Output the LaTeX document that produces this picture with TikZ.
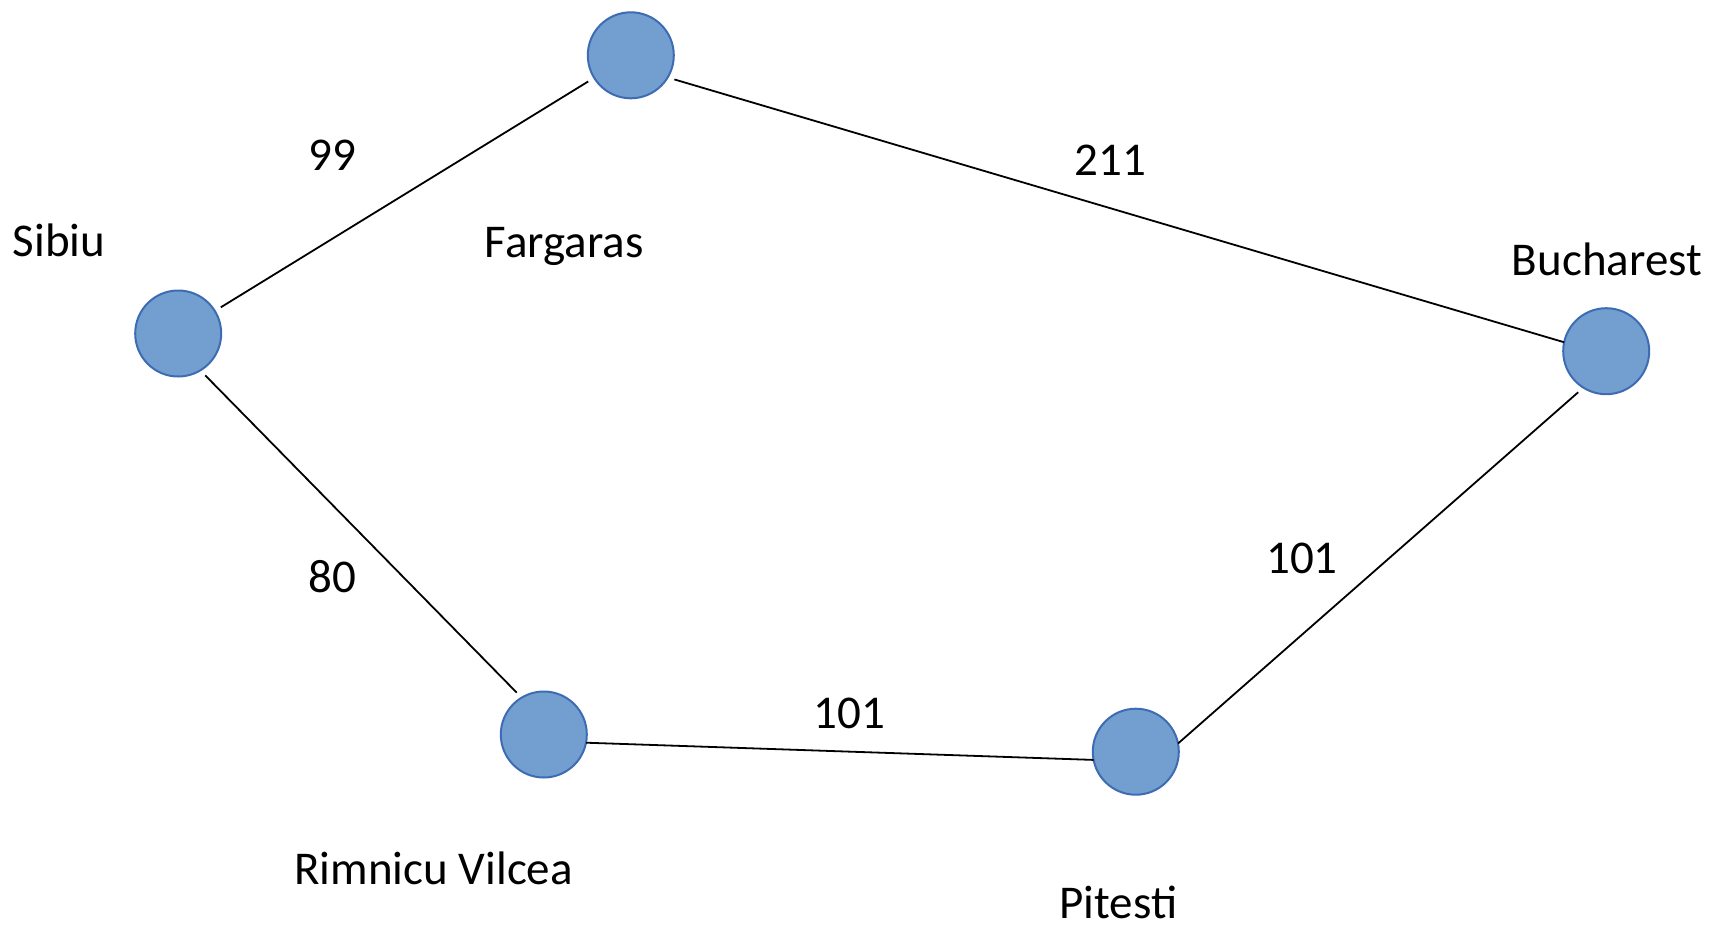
\documentclass[tikz,border=0pt]{standalone}
\usepackage{fontspec}
\setmainfont{Carlito}
\definecolor{cityfill}{RGB}{114,159,207}
\definecolor{cityline}{RGB}{62,108,178}
\begin{document}
\begin{tikzpicture}[x=1pt,y=-1pt,
  city/.style={circle,fill=cityfill,draw=cityline,line width=2pt,
    minimum size=86pt,inner sep=0pt,outer sep=0pt},
  road/.style={line width=1.8pt,black},
  lbl/.style={anchor=base,inner sep=0pt,font=\fontsize{47}{56}\selectfont}]
\useasboundingbox (0,0) rectangle (1714,924);
\fill[white] (0,0) rectangle (1714,924);

% cities
\node[city] (S) at (178.2,333.5) {};
\node[city] (F) at (630.8,55.3) {};
\node[city] (B) at (1606.2,351.2) {};
\node[city] (R) at (543.8,734.5) {};
\node[city] (P) at (1135.8,751.7) {};

% city names
\node[lbl] (tS) at (59,256.7) {Sibiu};
\node[lbl] (tF) at (564,257.5) {Fargaras};
\node[lbl] (tB) at (1607,275) {Bucharest};
\node[lbl] (tR) at (433.7,884) {Rimnicu Vilcea};
\node[lbl] (tP) at (1118.3,918.3) {Pitesti};

% roads
\draw[road,shorten <=7pt,shorten >=7pt] (S) -- (F);
\draw[road,shorten <=7pt] (F.-31) -- (B.168.5);
\draw[road,shorten <=7pt,shorten >=7pt] (S.-59) -- (R.121);
\draw[road] (R.-11) -- (P.191);
\draw[road,shorten >=7pt] (P.11) -- (B.238);

% distances
\node[lbl] (dSF) at (332,170) {99};
\node[lbl] (dFB) at (1110.6,175) {211};
\node[lbl] (dSR) at (332.3,592) {80};
\node[lbl] (dRP) at (849.3,728) {101};
\node[lbl] (dPB) at (1302,573) {101};
\end{tikzpicture}
\end{document}
